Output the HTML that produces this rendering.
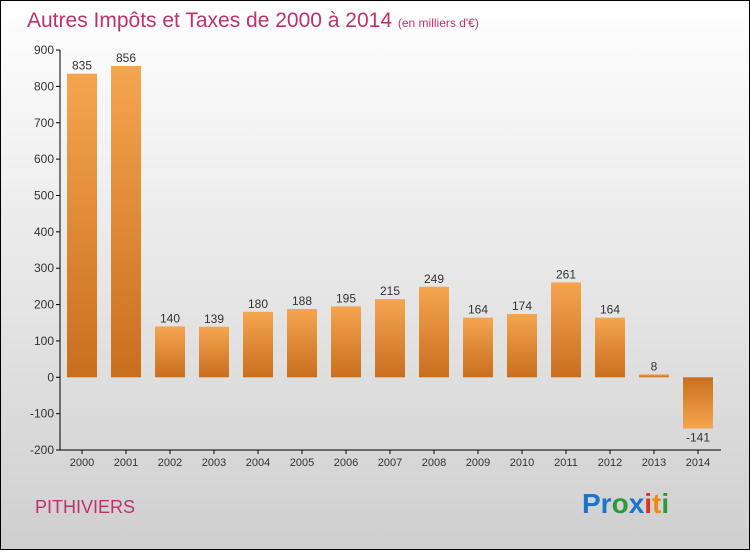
<!DOCTYPE html>
<html><head><meta charset="utf-8"><style>
body{margin:0;width:750px;height:550px;overflow:hidden;font-family:"Liberation Sans",sans-serif}
</style></head><body>
<svg width="750" height="550" xmlns="http://www.w3.org/2000/svg">
<defs>
<linearGradient id="bg" x1="0" y1="0" x2="0" y2="1"><stop offset="0" stop-color="#ffffff"/><stop offset="1" stop-color="#cfcfcf"/></linearGradient>
<linearGradient id="pos" x1="0" y1="0" x2="0" y2="1"><stop offset="0" stop-color="#f6a54f"/><stop offset="1" stop-color="#c86f1d"/></linearGradient>
<linearGradient id="neg" x1="0" y1="0" x2="0" y2="1"><stop offset="0" stop-color="#c86f1d"/><stop offset="1" stop-color="#f6a54f"/></linearGradient>
</defs>
<rect x="0.5" y="0.5" width="749" height="549" fill="url(#bg)" stroke="#000"/>
<text x="27" y="27" font-size="21" fill="#c0306a">Autres Impôts et Taxes de 2000 à 2014 <tspan font-size="12">(en milliers d'€)</tspan></text>
<g id="axes"></g><g id="bars"></g>
<text x="35" y="513" font-size="18" fill="#c0306a">PITHIVIERS</text>
<g font-size="28" font-weight="bold">
<text x="582" y="513"><tspan fill="#1a75cf">Pr</tspan><tspan fill="#2a9a3a">o</tspan><tspan fill="#1a75cf">x</tspan><tspan fill="#e03020">i</tspan><tspan fill="#f08a10">t</tspan><tspan fill="#2a9a3a">i</tspan></text>
</g>
</svg>
<script>
const categories=["2000","2001","2002","2003","2004","2005","2006","2007","2008","2009","2010","2011","2012","2013","2014"];
const values=[835,856,140,139,180,188,195,215,249,164,174,261,164,8,-141];
const yTicks=[-200,-100,0,100,200,300,400,500,600,700,800,900];
const NS="http://www.w3.org/2000/svg";
function y(v){return 377.3-v*0.36364;}
function x(i){return 82+i*44;}
function mk(t,a,p,txt){const e=document.createElementNS(NS,t);for(const k in a)e.setAttribute(k,a[k]);if(txt!==undefined)e.textContent=txt;p.appendChild(e);return e;}
const ax=document.getElementById('axes'),bg=document.getElementById('bars');
const yl=mk('line',{x1:60,y1:y(900),x2:60,y2:y(-200),stroke:'#000'},ax);


const xl=mk('line',{x1:60,y1:450,x2:721,y2:450,stroke:'#000'},ax);


yTicks.forEach(t=>{
  mk('line',{x1:56,x2:60,y1:y(t),y2:y(t),stroke:'#000'},ax);
  const l=mk('text',{x:54,y:y(t)+4,'font-size':12,'text-anchor':'end',fill:'#333'},ax,t<0?'-'+(-t):t);
  
  
});
categories.forEach((c,i)=>{
  const v=values[i];
  mk('line',{x1:x(i),x2:x(i),y1:450,y2:454,stroke:'#000'},ax);
  const l=mk('text',{x:x(i),y:466,'font-size':11,'text-anchor':'middle',fill:'#333'},ax,c);
  
  
  const top=Math.min(y(v),y(0)),h=Math.max(Math.abs(y(v)-y(0)),2);
  const r=mk('rect',{x:x(i)-15,y:top,width:30,height:h,fill:v<0?'url(#neg)':'url(#pos)'},bg);
  
  
  const vl=mk('text',{x:x(i),y:v<0?y(v)+13:y(v)-4,'font-size':12,'text-anchor':'middle',fill:'#333'},bg,v<0?'-'+(-v):v);
  
  
});
</script>
</body></html>
